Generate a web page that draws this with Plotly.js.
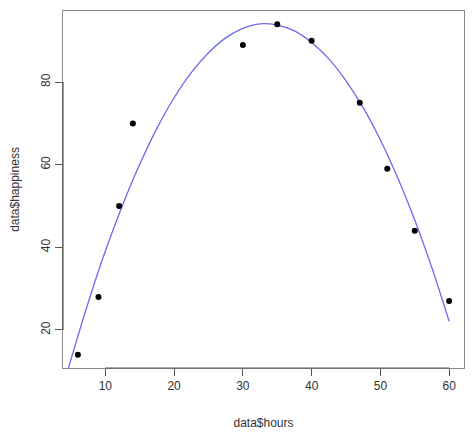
<!DOCTYPE html>
<html>
<head>
<meta charset="utf-8">
<script src="https://cdn.plot.ly/plotly-3.0.1.min.js"></script>
<style>
  html, body { margin: 0; padding: 0; background: #fff; }
  #chart { width: 474px; height: 436px; }
</style>
</head>
<body>
<div id="chart"></div>
<script>
// observed data points
const hours = [6, 9, 12, 14, 30, 35, 40, 47, 51, 55, 60];
const happiness = [14, 28, 50, 70, 89, 94, 90, 75, 59, 44, 27];

// fitted curve
const curveHours = [4, 5, 7.5, 10, 12.5, 15, 17.5, 20, 22.5, 25, 27.5, 30, 32.5, 35,
    37.5, 40, 42.5, 45, 47.5, 50, 52.5, 55, 57.5, 60];
const curveHappiness = [7.1, 12.9, 26.6, 39.1, 50.2, 60.1, 68.8, 76.2, 82.3, 87.1, 90.7, 93.0, 94.1, 93.8,
    92.4, 89.6, 85.6, 80.3, 73.8, 66.0, 56.9, 46.6, 35.0, 22.1];

const xTicks = [10, 20, 30, 40, 50, 60];
const yTicks = [20, 40, 60, 80];

const fontFamily = '"Liberation Sans", Arial, Helvetica, sans-serif';
const axisColor = '#555555';
const boxColor = '#8a8a8a';

const traces = [
    {
        x: curveHours,
        y: curveHappiness,
        type: 'scatter',
        mode: 'lines',
        line: {color: '#6b6bef', width: 1.3, shape: 'spline', smoothing: 1},
        hoverinfo: 'skip'
    },
    {
        x: hours,
        y: happiness,
        type: 'scatter',
        mode: 'markers',
        marker: {color: '#000000', size: 6}
    }
];

const layout = {
    width: 474,
    height: 436,
    showlegend: false,
    paper_bgcolor: '#ffffff',
    plot_bgcolor: '#ffffff',
    margin: {t: 11, b: 68, l: 63, r: 10},
    font: {family: fontFamily, size: 12, color: '#333333'},
    xaxis: {
        range: [3.84, 62.16],
        tickvals: xTicks,
        ticktext: xTicks.map(String),
        ticks: 'outside',
        ticklen: 7,
        tickwidth: 1,
        tickcolor: axisColor,
        showgrid: false,
        zeroline: false,
        showline: true,
        mirror: true,
        linecolor: boxColor,
        linewidth: 1,
        automargin: false,
        title: {text: 'data$hours', font: {size: 12, color: '#333333'}, standoff: 26}
    },
    yaxis: {
        range: [10.8, 97.2],
        tickvals: yTicks,
        ticktext: yTicks.map(String),
        tickangle: -90,
        ticks: 'outside',
        ticklen: 7,
        tickwidth: 1,
        tickcolor: axisColor,
        showgrid: false,
        zeroline: false,
        showline: true,
        mirror: true,
        linecolor: boxColor,
        linewidth: 1,
        automargin: false,
        title: {text: 'data$happiness', font: {size: 12, color: '#333333'}, standoff: 17}
    },
    shapes: [
        // R-style axis segments spanning the first to last tick
        {type: 'line', xref: 'x', yref: 'paper', x0: xTicks[0], x1: xTicks[xTicks.length - 1], y0: 0, y1: 0,
         line: {color: axisColor, width: 1.2}},
        {type: 'line', xref: 'paper', yref: 'y', x0: 0, x1: 0, y0: yTicks[0], y1: yTicks[yTicks.length - 1],
         line: {color: axisColor, width: 1.2}}
    ]
};

Plotly.newPlot('chart', traces, layout, {displayModeBar: false, staticPlot: true});
</script>
</body>
</html>
